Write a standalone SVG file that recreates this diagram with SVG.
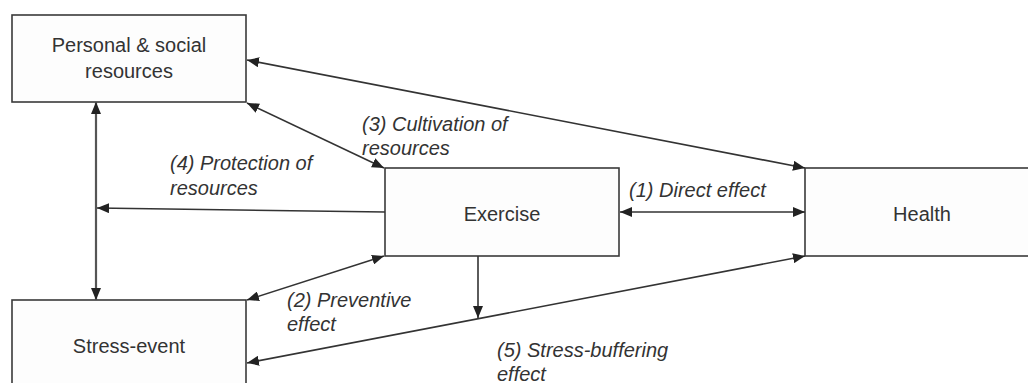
<svg xmlns="http://www.w3.org/2000/svg" width="1028" height="383" viewBox="0 0 1028 383">
<defs>
<style>
.box{fill:#fdfdfd;stroke:#3a3a3a;stroke-width:1.6}
.t{font-family:"Liberation Sans",Arial,sans-serif;font-size:20px;fill:#333;text-anchor:middle}
.l{font-family:"Liberation Sans",Arial,sans-serif;font-size:20px;font-style:italic;fill:#333}
.c{fill:none;stroke:#333;stroke-width:1.6}
.c2{fill:none;stroke:#555;stroke-width:2.2}
</style>
<marker id="ah" viewBox="0 0 12 10" refX="12" refY="5" markerWidth="12" markerHeight="10" markerUnits="userSpaceOnUse" orient="auto-start-reverse">
<path d="M0,0 L12,5 L0,10 Z" fill="#222"/>
</marker>
</defs>
<rect width="1028" height="383" fill="#ffffff"/>
<g id="personal">
<rect class="box" x="12" y="15" width="234" height="87"/>
<text class="t" x="129" y="52">Personal &amp; social</text>
<text class="t" x="129" y="78">resources</text>
</g>
<g id="exercise">
<rect class="box" x="385" y="168" width="234" height="88"/>
<text class="t" x="502" y="221">Exercise</text>
</g>
<g id="health">
<rect class="box" x="805" y="168" width="240" height="88"/>
<text class="t" x="922" y="221">Health</text>
</g>
<g id="stress">
<rect class="box" x="12" y="300" width="234" height="100"/>
<text class="t" x="129" y="353">Stress-event</text>
</g>
<g id="connectors">
<line class="c2" x1="96" y1="102" x2="96" y2="300" marker-start="url(#ah)" marker-end="url(#ah)"/>
<line class="c" x1="385" y1="212" x2="97" y2="208" marker-end="url(#ah)"/>
<line class="c" x1="247" y1="60" x2="805" y2="168" marker-start="url(#ah)" marker-end="url(#ah)"/>
<line class="c" x1="247" y1="103" x2="384" y2="168" marker-start="url(#ah)" marker-end="url(#ah)"/>
<line class="c" x1="620" y1="212" x2="805" y2="212" marker-start="url(#ah)" marker-end="url(#ah)"/>
<line class="c" x1="384" y1="256" x2="247" y2="300" marker-start="url(#ah)" marker-end="url(#ah)"/>
<line class="c" x1="805" y1="256" x2="247" y2="363" marker-start="url(#ah)" marker-end="url(#ah)"/>
<line class="c" x1="478" y1="256" x2="478" y2="318" marker-end="url(#ah)"/>
</g>
<g id="labels">
<text class="l" x="629" y="197">(1) Direct effect</text>
<text class="l" x="287" y="307">(2) Preventive</text>
<text class="l" x="287" y="331">effect</text>
<text class="l" x="362" y="131">(3) Cultivation of</text>
<text class="l" x="362" y="155">resources</text>
<text class="l" x="170" y="170">(4) Protection of</text>
<text class="l" x="170" y="195">resources</text>
<text class="l" x="497" y="357">(5) Stress-buffering</text>
<text class="l" x="497" y="381">effect</text>
</g>
</svg>
